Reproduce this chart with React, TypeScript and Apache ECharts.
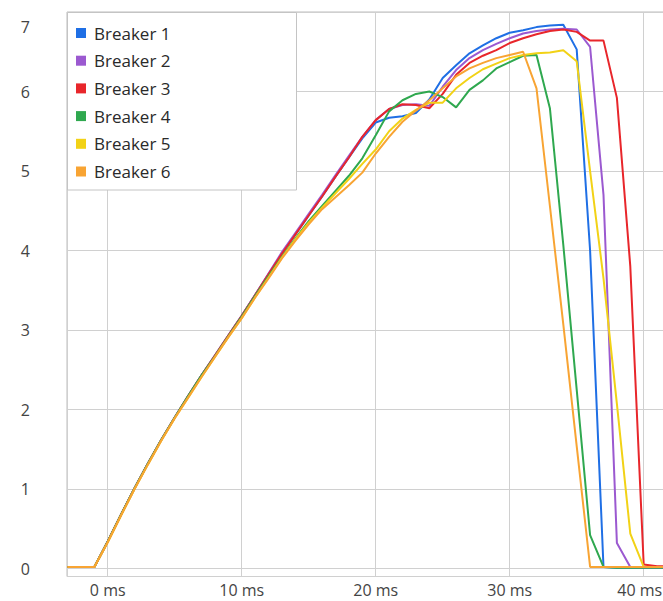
import React, { useEffect, useRef } from 'react';
import * as echarts from 'echarts';

// time in ms
const times = [-3, -2, -1, 0, 1, 2, 3, 4, 5, 6, 7, 8, 9, 10, 11, 12, 13, 14, 15, 16, 17, 18, 19, 20, 21, 22, 23, 24, 25, 26, 27, 28, 29, 30, 31, 32, 33, 34, 35, 36, 37, 38, 39, 40, 41, 42];

const seriesNames = ['Breaker 1', 'Breaker 2', 'Breaker 3', 'Breaker 4', 'Breaker 5', 'Breaker 6'];
const seriesColors = ['#1f6fe5', '#9b59d0', '#e8262b', '#2fa84f', '#f2d216', '#f8a433'];

const breaker1 = [0.02, 0.02, 0.02, 0.34, 0.68, 1.01, 1.32, 1.62, 1.9, 2.17, 2.43, 2.68, 2.93, 3.18, 3.44, 3.7, 3.96, 4.2, 4.44, 4.68, 4.93, 5.17, 5.41, 5.61, 5.67, 5.69, 5.73, 5.9, 6.17, 6.33, 6.48, 6.58, 6.67, 6.74, 6.77, 6.81, 6.83, 6.84, 6.53, 4.0, 0.02, 0.01, 0.01, 0.01, 0.01, 0.01];
const breaker2 = [0.02, 0.02, 0.02, 0.34, 0.68, 1.01, 1.32, 1.62, 1.9, 2.17, 2.43, 2.68, 2.93, 3.18, 3.44, 3.71, 3.98, 4.22, 4.46, 4.7, 4.95, 5.19, 5.43, 5.64, 5.78, 5.83, 5.84, 5.82, 6.06, 6.27, 6.42, 6.52, 6.6, 6.67, 6.73, 6.76, 6.78, 6.79, 6.78, 6.56, 4.7, 0.32, 0.02, 0.01, 0.01, 0.01];
const breaker3 = [0.02, 0.02, 0.02, 0.34, 0.68, 1.01, 1.32, 1.62, 1.9, 2.17, 2.43, 2.68, 2.93, 3.18, 3.44, 3.7, 3.96, 4.2, 4.44, 4.68, 4.93, 5.17, 5.43, 5.64, 5.78, 5.84, 5.83, 5.79, 5.97, 6.21, 6.36, 6.45, 6.52, 6.61, 6.67, 6.72, 6.76, 6.78, 6.75, 6.64, 6.64, 5.92, 3.8, 0.05, 0.03, 0.03];
const breaker4 = [0.02, 0.02, 0.02, 0.34, 0.68, 1.01, 1.32, 1.62, 1.9, 2.17, 2.43, 2.67, 2.92, 3.17, 3.43, 3.68, 3.92, 4.15, 4.37, 4.56, 4.75, 4.94, 5.16, 5.45, 5.75, 5.89, 5.97, 6.0, 5.93, 5.8, 6.02, 6.14, 6.29, 6.37, 6.45, 6.46, 5.79, 4.07, 2.25, 0.42, 0.02, 0.01, 0.01, 0.01, 0.01, 0.01];
const breaker5 = [0.02, 0.02, 0.02, 0.33, 0.67, 1.0, 1.31, 1.61, 1.89, 2.15, 2.41, 2.66, 2.91, 3.15, 3.41, 3.66, 3.91, 4.14, 4.35, 4.54, 4.72, 4.9, 5.09, 5.27, 5.5, 5.66, 5.77, 5.86, 5.86, 6.04, 6.17, 6.28, 6.35, 6.42, 6.46, 6.48, 6.49, 6.52, 6.38, 5.0, 3.65, 2.07, 0.44, 0.02, 0.02, 0.02];
const breaker6 = [0.02, 0.02, 0.02, 0.33, 0.67, 1.0, 1.31, 1.61, 1.89, 2.15, 2.41, 2.66, 2.91, 3.15, 3.41, 3.65, 3.9, 4.12, 4.33, 4.52, 4.67, 4.82, 4.98, 5.22, 5.43, 5.62, 5.76, 5.89, 6.04, 6.19, 6.29, 6.36, 6.42, 6.46, 6.5, 6.04, 4.56, 3.07, 1.54, 0.02, 0.02, 0.02, 0.02, 0.02, 0.02, 0.02];

const seriesValues = [breaker1, breaker2, breaker3, breaker4, breaker5, breaker6];

const xTickLabels = [0, 10, 20, 30, 40];
const yTickLabels = [0, 1, 2, 3, 4, 5, 6, 7];

const FONT = "'Open Sans', 'DejaVu Sans', sans-serif";

export default function App() {
  const ref = useRef<HTMLDivElement>(null);

  useEffect(() => {
    document.body.style.margin = '0';
    document.body.style.overflow = 'hidden';
    if (!ref.current) return;
    const chart = echarts.init(ref.current, null, { renderer: 'svg' });

    const series = seriesNames.map((name, i) => ({
      name,
      type: 'line',
      data: times.map((t, j) => [t, seriesValues[i][j]]),
      symbol: 'none',
      showSymbol: false,
      smooth: false,
      color: seriesColors[i],
      lineStyle: { width: 2, color: seriesColors[i] },
      itemStyle: { color: seriesColors[i] },
      z: 2 + i,
    }));

    const option = {
      animation: false,
      textStyle: { fontFamily: FONT },
      grid: {
        left: 67,
        right: -2,
        top: 12,
        bottom: 24.5,
        show: true,
        containLabel: false,
        outerBoundsMode: 'none',
        borderColor: '#bdbdbd',
        borderWidth: 1,
        backgroundColor: 'transparent',
      },
      xAxis: {
        type: 'value',
        min: -3.04,
        max: 41.59,
        minInterval: 10,
        maxInterval: 10,
        axisLine: { show: false },
        axisTick: { show: false },
        splitLine: { show: true, lineStyle: { color: '#d0d0d0', width: 1 } },
        axisLabel: {
          margin: 5,
          fontSize: 16,
          lineHeight: 16,
          color: '#444',
          fontFamily: FONT,
          formatter: (v: number) => {
            if (!xTickLabels.includes(v)) return '';
            if (v === 40) return '{r|' + v + ' ms}';
            return v + ' ms';
          },
          rich: {
            r: { fontSize: 16, lineHeight: 16, color: '#444', fontFamily: FONT, padding: [0, 8, 0, 0] },
          },
        },
      },
      yAxis: {
        type: 'value',
        min: -0.1,
        max: 7,
        minInterval: 1,
        maxInterval: 1,
        axisLine: { show: false },
        axisTick: { show: false },
        splitLine: { show: true, lineStyle: { color: '#d0d0d0', width: 1 } },
        axisLabel: {
          margin: 37,
          fontSize: 16,
          color: '#444',
          fontFamily: FONT,
          formatter: (v: number) => {
            if (!yTickLabels.includes(v)) return '';
            if (v === 7) return '{t|7}';
            return String(v);
          },
          rich: {
            t: { fontSize: 16, color: '#444', fontFamily: FONT, padding: [29, 0, 0, 0] },
          },
        },
      },
      legend: {
        orient: 'vertical',
        left: 76,
        top: 24,
        padding: 0,
        itemWidth: 10,
        itemHeight: 10,
        itemGap: 9.7,
        icon: 'rect',
        data: seriesNames,
        textStyle: { fontSize: 17, color: '#2a2a2a', lineHeight: 18, fontFamily: FONT, padding: [0, 0, 0, 3] },
        z: 20,
      },
      graphic: [
        {
          type: 'rect',
          z: 10,
          shape: { x: 67.5, y: 12.5, width: 229, height: 177.5 },
          style: { fill: '#ffffff', stroke: '#c4c4c4', lineWidth: 1 },
        },
      ],
      series,
    };

    chart.setOption(option as any);
    return () => {
      chart.dispose();
    };
  }, []);

  return (
    <div
      ref={ref}
      style={{ position: 'fixed', left: 0, top: 0, width: 663, height: 601, background: '#ffffff' }}
    />
  );
}
